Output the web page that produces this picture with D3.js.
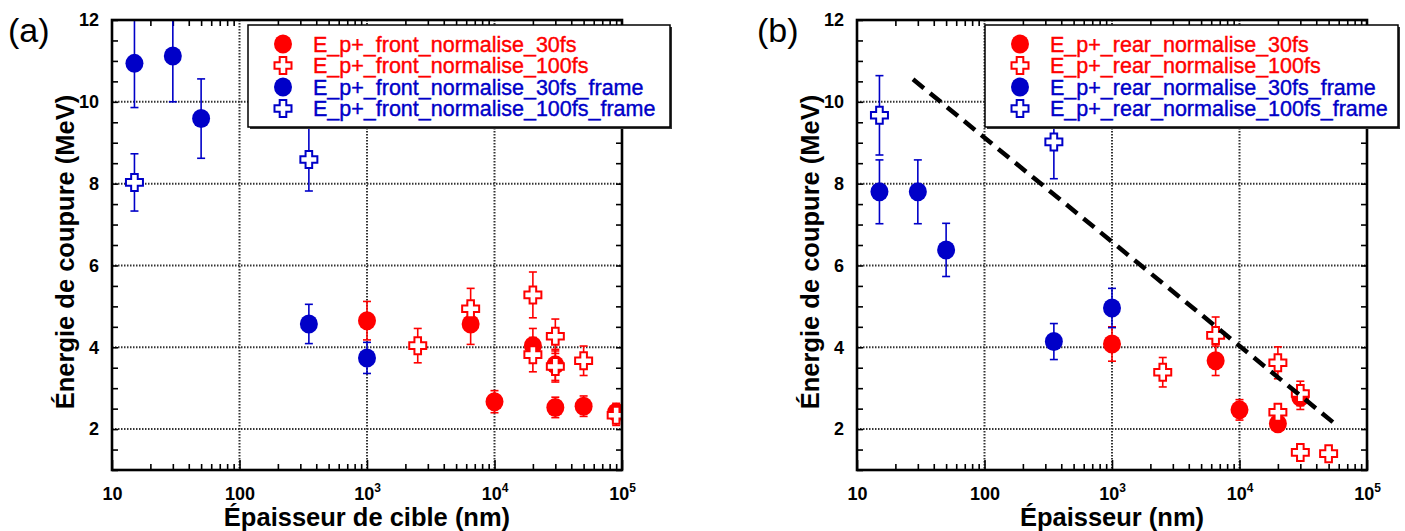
<!DOCTYPE html>
<html>
<head>
<meta charset="utf-8">
<script src="https://cdn.jsdelivr.net/npm/d3@7"></script>
<style>
  html, body { margin: 0; padding: 0; background: #fff; }
  svg { display: block; font-family: "Liberation Sans", Arial, sans-serif; }
</style>
</head>
<body>
<script>
// ---------------- DATA ----------------
const xDomain = [10, 100000];
const yDomain = [1, 12];
const xTickValues = [10, 100, 1000, 10000, 100000];
const xTickBase = ["10", "100", "10", "10", "10"];
const xTickExp = ["", "", "3", "4", "5"];
const yTickValues = [2, 4, 6, 8, 10, 12];
const yGridValues = [2, 4, 6, 8, 10];
const xGridValues = [100, 1000, 10000];

// [thickness nm, energy MeV, error MeV]
const aFront30fs = [[1000, 4.65, 0.47], [6500, 4.57, 0.5], [10000, 2.67, 0.27], [20000, 4.04, 0.42],
  [30000, 3.57, 0.38], [30000, 2.53, 0.25], [50000, 2.56, 0.25], [90000, 2.41, 0.22]];
const aFront100fs = [[2500, 4.04, 0.42], [6500, 4.94, 0.5], [20000, 5.28, 0.56], [20000, 3.82, 0.42],
  [30000, 4.27, 0.42], [30000, 3.53, 0.38], [50000, 3.67, 0.36], [90000, 2.34, 0.25]];
const aFront30fsFrame = [[15, 10.94, 1.08], [30, 11.12, 1.12], [50, 9.59, 0.97], [350, 4.57, 0.48], [1000, 3.74, 0.38]];
const aFront100fsFrame = [[15, 8.03, 0.7], [350, 8.59, 0.77]];

const bRear30fs = [[1000, 4.08, 0.42], [6500, 3.67, 0.36], [10000, 2.47, 0.25], [20000, 2.13, 0.15], [30000, 2.78, 0.3]];
const bRear100fs = [[2500, 3.39, 0.36], [6500, 4.29, 0.45], [20000, 3.62, 0.39], [20000, 2.41, 0.2],
  [30000, 2.87, 0.3], [30000, 1.43, 0], [50000, 1.40, 0]];
const bRear30fsFrame = [[15, 7.8, 0.78], [30, 7.8, 0.78], [50, 6.38, 0.65], [350, 4.14, 0.44], [1000, 4.96, 0.48]];
const bRear100fsFrame = [[15, 9.67, 0.97], [350, 9.02, 0.9]];
const bTrendX = [27.5, 57500];
const bTrendY = [10.55, 2.1];

const aLegend = ["E_p+_front_normalise_30fs", "E_p+_front_normalise_100fs",
  "E_p+_front_normalise_30fs_frame", "E_p+_front_normalise_100fs_frame"];
const bLegend = ["E_p+_rear_normalise_30fs", "E_p+_rear_normalise_100fs",
  "E_p+_rear_normalise_30fs_frame", "E_p+_rear_normalise_100fs_frame"];

// ---------------- STYLE ----------------
const RED = "#ff0000", BLUE = "#0000c8";
const W = 1405, H = 531;
const svg = d3.select("body").append("svg").attr("width", W).attr("height", H);

function plusPath(L, w) {
  return `M${-w},${-L}H${w}V${-w}H${L}V${w}H${w}V${L}H${-w}V${w}H${-L}V${-w}H${-w}Z`;
}

function minorTicks() {
  const t = [];
  for (let d = 10; d < 100000; d *= 10) for (let k = 2; k <= 9; k++) t.push(d * k);
  return t;
}
const yMinor = d3.range(1, 12.01, 0.5);

function drawPanel(cfg) {
  const x = d3.scaleLog().domain(xDomain).range([cfg.left, cfg.right]);
  const y = d3.scaleLinear().domain(yDomain).range([470, 20]);
  const g = svg.append("g");
  const clipId = "clip" + cfg.id;
  svg.append("clipPath").attr("id", clipId).append("rect")
    .attr("x", cfg.left).attr("y", 20).attr("width", cfg.right - cfg.left).attr("height", 450);

  // grid
  g.selectAll(".gx").data(xGridValues).join("line")
    .attr("x1", d => x(d)).attr("x2", d => x(d)).attr("y1", y(12)).attr("y2", y(1))
    .attr("stroke", "#333").attr("stroke-width", 2).attr("stroke-dasharray", "1.5,1.5");
  g.selectAll(".gy").data(yGridValues).join("line")
    .attr("y1", d => y(d)).attr("y2", d => y(d)).attr("x1", cfg.left).attr("x2", cfg.right)
    .attr("stroke", "#333").attr("stroke-width", 2).attr("stroke-dasharray", "1.5,1.5");

  // axes ticks
  const axG = g.append("g").attr("class", "axes");
  const mk = (sel) => { sel.select(".domain").remove(); sel.selectAll(".tick line").attr("stroke", "#000").attr("stroke-width", 1.6); };
  axG.append("g").attr("transform", `translate(0,${y(1)})`)
    .call(d3.axisBottom(x).tickValues(minorTicks()).tickSize(-6).tickFormat("")).call(mk);
  axG.append("g").attr("transform", `translate(0,${y(12)})`)
    .call(d3.axisTop(x).tickValues(minorTicks()).tickSize(-6).tickFormat("")).call(mk);
  const xLab = axG.append("g").attr("transform", `translate(0,${y(1)})`)
    .call(d3.axisBottom(x).tickValues(xTickValues).tickSize(-10).tickPadding(18).tickFormat(""));
  mk(xLab);
  xLab.selectAll(".tick").each(function (d, i) {
    const t = d3.select(this).append("text").attr("y", 30).attr("fill", "#000")
      .attr("text-anchor", "middle").attr("font-size", 18).attr("font-weight", "bold")
      .attr("font-family", '"Liberation Sans", Arial, sans-serif');
    t.append("tspan").text(xTickBase[i]);
    if (xTickExp[i]) t.append("tspan").attr("dy", -8).attr("font-size", 12).text(xTickExp[i]);
  });
  axG.append("g").attr("transform", `translate(${cfg.left},0)`)
    .call(d3.axisLeft(y).tickValues(yMinor).tickSize(-6).tickPadding(13)
      .tickFormat(d => yTickValues.includes(d) ? d : ""))
    .call(mk)
    .call(s => s.selectAll("text").attr("font-size", 18).attr("font-weight", "bold").attr("fill", "#000")
      .attr("font-family", '"Liberation Sans", Arial, sans-serif'));
  axG.append("g").attr("transform", `translate(${cfg.right},0)`)
    .call(d3.axisRight(y).tickValues(yMinor).tickSize(-6).tickFormat("")).call(mk);

  // data
  const dg = g.append("g").attr("clip-path", `url(#${clipId})`);
  function errBars(data, color) {
    const eg = dg.append("g").attr("stroke", color).attr("stroke-width", 1.6);
    data.filter(d => d[2] > 0).forEach(d => {
      const cx = x(d[0]), y1 = y(d[1] + d[2]), y2 = y(d[1] - d[2]);
      eg.append("line").attr("x1", cx).attr("x2", cx).attr("y1", y1).attr("y2", y2);
      eg.append("line").attr("x1", cx - 4).attr("x2", cx + 4).attr("y1", y1).attr("y2", y1);
      eg.append("line").attr("x1", cx - 4).attr("x2", cx + 4).attr("y1", y2).attr("y2", y2);
    });
  }
  function circles(data, color) {
    errBars(data, color);
    dg.append("g").selectAll("ellipse").data(data).join("ellipse")
      .attr("cx", d => x(d[0])).attr("cy", d => y(d[1])).attr("rx", 9).attr("ry", 9.5).attr("fill", color);
  }
  function pluses(data, color) {
    errBars(data, color);
    dg.append("g").selectAll("path").data(data).join("path")
      .attr("transform", d => `translate(${x(d[0])},${y(d[1])})`)
      .attr("d", plusPath(8.5, 3.3)).attr("fill", "#fff").attr("stroke", color).attr("stroke-width", 2);
  }
  circles(cfg.s1, RED);
  pluses(cfg.s2, RED);
  circles(cfg.s3, BLUE);
  pluses(cfg.s4, BLUE);

  if (cfg.trendX) {
    const pts = cfg.trendX.map((v, i) => [v, cfg.trendY[i]]);
    g.append("path").attr("d", d3.line().x(d => x(d[0])).y(d => y(d[1]))(pts))
      .attr("stroke", "#000").attr("stroke-width", 4.5).attr("fill", "none").attr("stroke-dasharray", "14,8");
  }

  // frame
  g.append("rect").attr("x", cfg.left).attr("y", y(12)).attr("width", cfg.right - cfg.left).attr("height", y(1) - y(12))
    .attr("fill", "none").attr("stroke", "#000").attr("stroke-width", 2.6);

  // legend
  const lg = g.append("g");
  lg.append("rect").attr("x", cfg.legX + 2).attr("y", 27).attr("width", cfg.legW).attr("height", 102).attr("fill", "#333");
  lg.append("rect").attr("x", cfg.legX).attr("y", 25).attr("width", cfg.legW).attr("height", 102)
    .attr("fill", "#fff").attr("stroke", "#000").attr("stroke-width", 1.5);
  const colors = [RED, RED, BLUE, BLUE];
  cfg.legend.forEach((txt, i) => {
    const cy = 44 + i * 21.5;
    const mx = cfg.legX + 35;
    if (i % 2 === 0) lg.append("ellipse").attr("cx", mx).attr("cy", cy).attr("rx", 9).attr("ry", 9.5).attr("fill", colors[i]);
    else lg.append("path").attr("transform", `translate(${mx},${cy})`).attr("d", plusPath(8.5, 3.3))
      .attr("fill", "#fff").attr("stroke", colors[i]).attr("stroke-width", 2);
    lg.append("text").attr("x", cfg.legX + 65).attr("y", cy + 7.5).attr("fill", colors[i])
      .attr("stroke", colors[i]).attr("stroke-width", 0.4)
      .attr("font-size", 21.5).text(txt);
  });

  // titles
  g.append("text").attr("x", (cfg.left + cfg.right) / 2).attr("y", 526).attr("text-anchor", "middle")
    .attr("font-size", 25.5).attr("font-weight", "bold").text(cfg.xTitle);
  g.append("text").attr("transform", `translate(${cfg.left - 38},252) rotate(-90)`).attr("text-anchor", "middle")
    .attr("font-size", 25.5).attr("font-weight", "bold").text("Énergie de coupure (MeV)");
  g.append("text").attr("x", cfg.tagX).attr("y", 42).attr("font-size", 34).text(cfg.tag);
}

drawPanel({ id: "a", left: 112, right: 622, s1: aFront30fs, s2: aFront100fs, s3: aFront30fsFrame, s4: aFront100fsFrame,
  legend: aLegend, legX: 248, legW: 422, xTitle: "Épaisseur de cible (nm)", tag: "(a)", tagX: 8 });
drawPanel({ id: "b", left: 857, right: 1367, s1: bRear30fs, s2: bRear100fs, s3: bRear30fsFrame, s4: bRear100fsFrame,
  legend: bLegend, legX: 985, legW: 413, xTitle: "Épaisseur (nm)", tag: "(b)", tagX: 757,
  trendX: bTrendX, trendY: bTrendY });
</script>
</body>
</html>
